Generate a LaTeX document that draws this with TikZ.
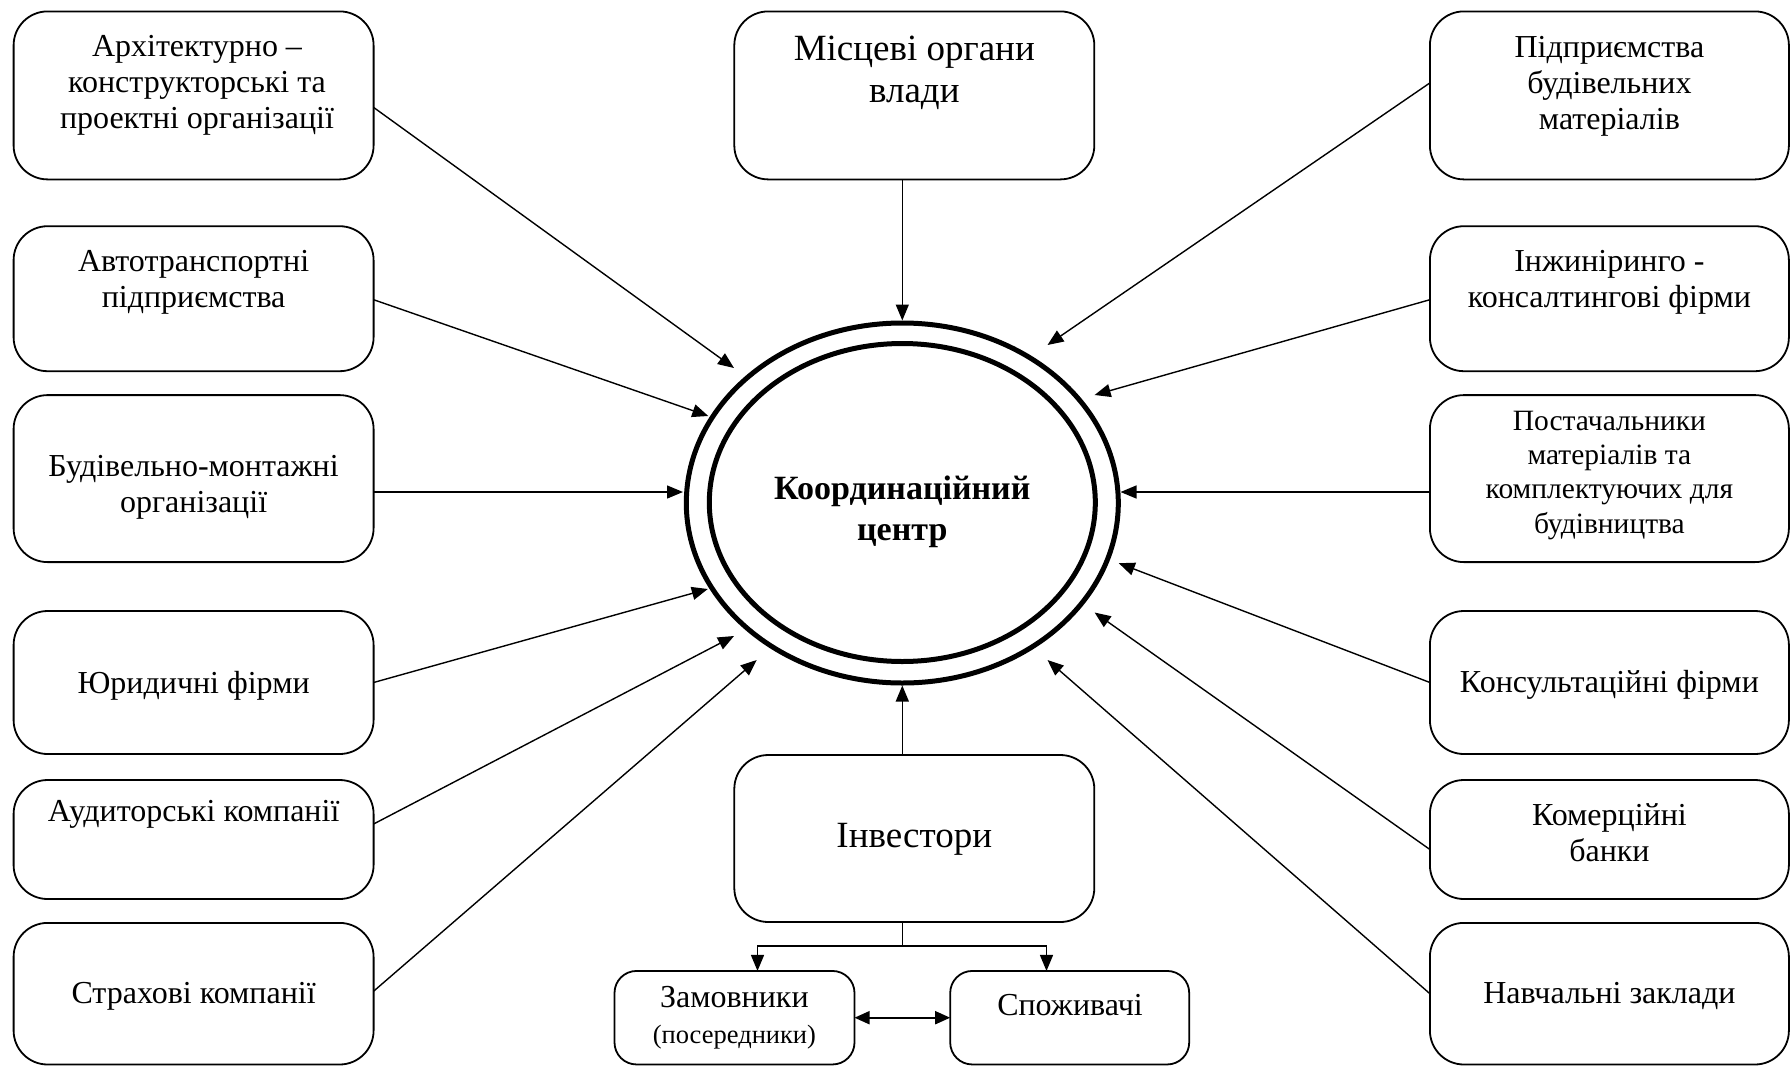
\documentclass[tikz,border=0pt]{standalone}
\usepackage{fontspec}
\setmainfont{Liberation Serif}
\usetikzlibrary{shapes.geometric,arrows.meta,calc}
\begin{document}
\begin{tikzpicture}[x=1pt,y=-1pt,
  box/.style={draw, line width=1.8pt, rounded corners=34pt, inner sep=0pt, outer sep=0pt},
  sbox/.style={draw, line width=1.8pt, rounded corners=22pt, inner sep=0pt, outer sep=0pt},
  txt/.style={align=center, inner sep=0pt, font=\fontsize{32}{36}\selectfont},
  bigtxt/.style={align=center, inner sep=0pt, font=\fontsize{37}{42}\selectfont},
  smalltxt/.style={align=center, inner sep=0pt, font=\fontsize{29.5}{34.4}\selectfont},
  conn/.style={line width=1.4pt, -{Triangle[length=16pt,width=13pt]}},
  dconn/.style={line width=1.8pt, {Triangle[length=15pt,width=13pt]}-{Triangle[length=15pt,width=13pt]}},
  ring/.style={draw, ellipse, line width=5pt, inner sep=0pt},
]
\useasboundingbox (0,0) rectangle (1791,1066);

% left column
\node[box, minimum width=360pt, minimum height=168pt]   (B1) at (193.6,95.4) {};
\node[box, minimum width=360pt, minimum height=145pt]   (B2) at (193.6,298.7) {};
\node[box, minimum width=360pt, minimum height=167pt]   (B3) at (193.6,478.6) {};
\node[box, minimum width=360pt, minimum height=143pt]   (B4) at (193.6,682.5) {};
\node[box, minimum width=360pt, minimum height=119pt]   (B5) at (193.6,839.5) {};
\node[box, minimum width=360pt, minimum height=141.6pt] (B6) at (193.6,993.7) {};

% right column
\node[box, minimum width=359pt, minimum height=168pt]   (R1) at (1609.4,95.4) {};
\node[box, minimum width=359pt, minimum height=145pt]   (R2) at (1609.4,298.7) {};
\node[box, minimum width=359pt, minimum height=167pt]   (R3) at (1609.4,478.6) {};
\node[box, minimum width=359pt, minimum height=143pt]   (R4) at (1609.4,682.5) {};
\node[box, minimum width=359pt, minimum height=119pt]   (R5) at (1609.4,839.5) {};
\node[box, minimum width=359pt, minimum height=141.6pt] (R6) at (1609.4,993.7) {};

% middle
\node[box, minimum width=360pt, minimum height=168pt] (M) at (914.3,95.4) {};
\node[box, minimum width=360pt, minimum height=167pt] (Inv) at (914.3,838.5) {};
\node[sbox, minimum width=240pt, minimum height=93.5pt] (Zam) at (734.5,1017.7) {};
\node[sbox, minimum width=239pt, minimum height=93.5pt] (Spo) at (1069.7,1017.7) {};

% centre rings
\node[ring, minimum width=432pt, minimum height=360pt] (E) at (902.3,503) {};
\node[ring, minimum width=386pt, minimum height=318pt] (Ein) at (902.3,502.5) {};

% texts
\node[txt] (tx1) at (197,85.7) {Архітектурно –\\конструкторські та\\проектні організації};
\node[txt] (tx2) at (193.6,282.7) {Автотранспортні\\підприємства};
\node[txt] (tx3) at (193.6,487.7) {Будівельно-монтажні\\організації};
\node[txt] (tx4) at (193.6,685.3) {Юридичні фірми};
\node[txt] (tx5) at (193.6,814.4) {Аудиторські компанії};
\node[txt] (tx6) at (193.6,996) {Страхові компанії};
\node[bigtxt] (txm) at (914.3,72.5) {Місцеві органи\\влади};
\node[txt] (ty1) at (1609.4,86) {Підприємства\\будівельних\\матеріалів};
\node[txt] (ty2) at (1609.4,282.7) {Інжиніринго -\\консалтингові фірми};
\node[smalltxt] (ty3) at (1609.4,475.2) {Постачальники\\матеріалів та\\комплектуючих для\\будівництва};
\node[txt] (ty4) at (1609.4,685.3) {Консультаційні фірми};
\node[txt] (ty5) at (1609.4,832.7) {Комерційні\\банки};
\node[txt] (ty6) at (1609.4,996) {Навчальні заклади};
\node[bigtxt] (txi) at (914.3,839.5) {Інвестори};
\node[align=center, inner sep=0pt, font=\fontsize{34}{41}\selectfont\bfseries] (txc) at (902.3,511.7) {Координаційний\\центр};
\node[txt] (txz) at (734.4,997) {Замовники};
\node[inner sep=0pt, font=\fontsize{26.5}{30}\selectfont] (txp) at (734.4,1036.7) {(посередники)};
\node[txt] (txs) at (1070,1005) {Споживачі};

% arrow tips near the ring
\coordinate (tB1) at (734,368);
\coordinate (tB2) at (708.3,416);
\coordinate (tB3) at (683,492);
\coordinate (tB4) at (707.8,589);
\coordinate (tB5) at (734,636);
\coordinate (tB6) at (756.7,660);
\coordinate (tR1) at (1047.5,345);
\coordinate (tR2) at (1094.6,395);
\coordinate (tR3) at (1120.5,492);
\coordinate (tR4) at (1118.8,563.2);
\coordinate (tR5) at (1094.6,612.5);
\coordinate (tR6) at (1047.5,660);

\draw[conn] ($(B1.east)+(0,12)$) -- (tB1);
\draw[conn] ($(B2.east)+(0,1)$) -- (tB2);
\draw[conn] ($(B3.east)+(0,13.4)$) -- (tB3);
\draw[conn] (B4.east) -- (tB4);
\draw[conn] ($(B5.east)+(0,-15.5)$) -- (tB5);
\draw[conn] ($(B6.east)+(0,-2.5)$) -- (tB6);
\draw[conn] ($(R1.west)+(0,-12.5)$) -- (tR1);
\draw[conn] ($(R2.west)+(0,1)$) -- (tR2);
\draw[conn] ($(R3.west)+(0,13.4)$) -- (tR3);
\draw[conn] (R4.west) -- (tR4);
\draw[conn] ($(R5.west)+(0,10)$) -- (tR5);
\draw[conn] (R6.west) -- (tR6);

\draw[conn] (E.north |- M.south) -- (E.north);
\draw[conn] (E.south |- Inv.north) -- (E.south);

% investors branch
\coordinate (jL) at (757.5,946);
\coordinate (jR) at (1046.5,946);
\draw[line width=1.4pt] (E.south |- Inv.south) -- (E.south |- jL);
\draw[conn] (E.south |- jL) -- (jL) -- (jL |- Zam.north);
\draw[conn] (E.south |- jR) -- (jR) -- (jR |- Spo.north);
\draw[dconn] (Zam.east) -- (Zam.east -| Spo.west);
\end{tikzpicture}
\end{document}
